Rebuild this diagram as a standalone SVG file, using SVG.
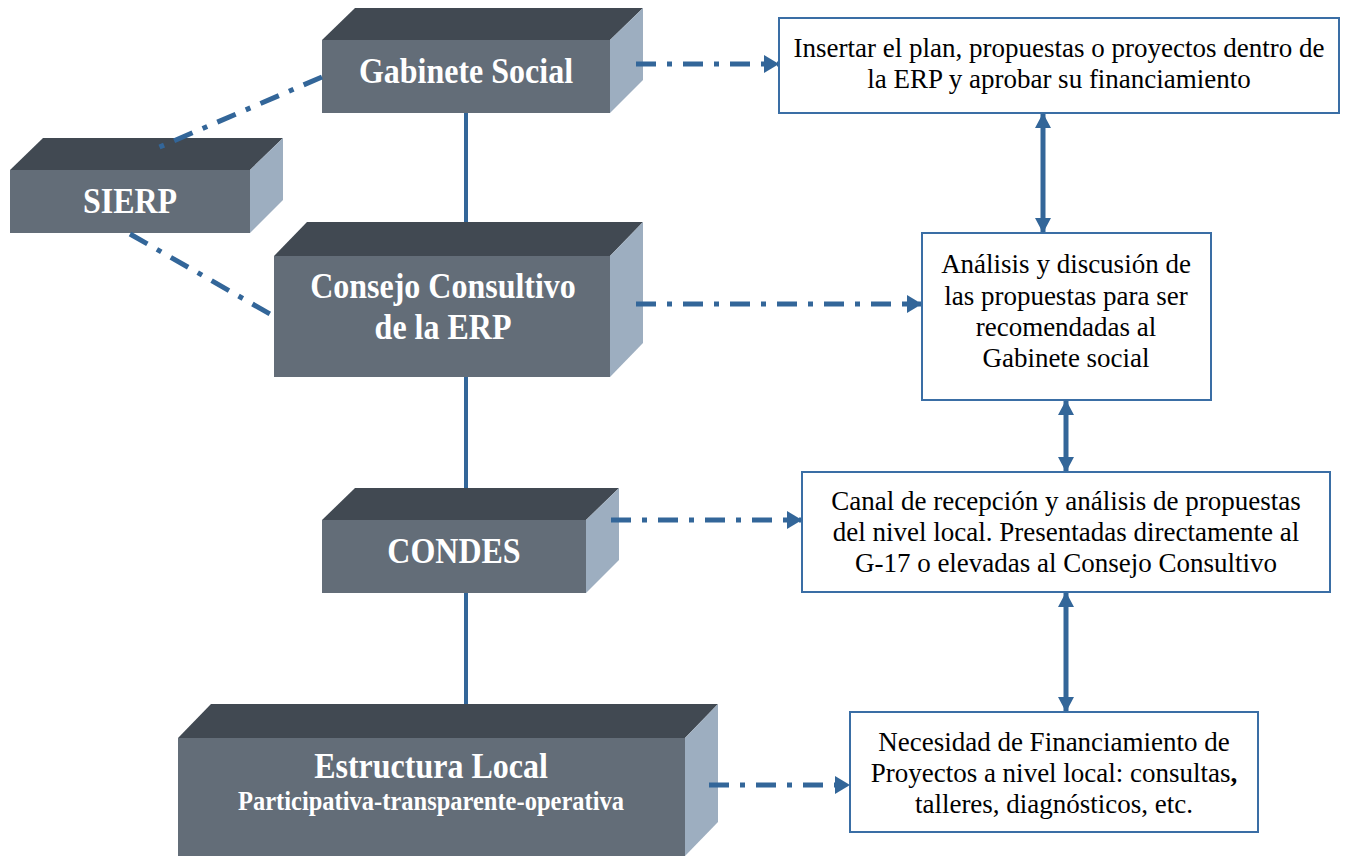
<svg xmlns="http://www.w3.org/2000/svg" width="1357" height="856" viewBox="0 0 1357 856">
<style>
.top{fill:#414952}
.front{fill:#636d78}
.side{fill:#9daec0}
.lbl{font-family:'Liberation Serif',serif;font-weight:bold;fill:#ffffff;text-anchor:middle}
.box{fill:#ffffff;stroke:#3a6ea5;stroke-width:2}
.txt{font-family:'Liberation Serif',serif;fill:#000000;text-anchor:middle;font-size:27px}
.solid{stroke:#336699;stroke-width:4;fill:none}
.dd{stroke:#336699;stroke-width:5;fill:none;stroke-dasharray:20 11 5 11}
.dbl{stroke:#336699;stroke-width:5;fill:none}
</style>
<defs>
<marker id="ah" markerUnits="userSpaceOnUse" markerWidth="16" markerHeight="18" refX="14" refY="9" orient="auto">
<path d="M0,0 L15,9 L0,18 Z" fill="#336699"/>
</marker>
<marker id="ahs" markerUnits="userSpaceOnUse" markerWidth="16" markerHeight="16" refX="14" refY="8" orient="auto-start-reverse">
<path d="M0,0 L15,8 L0,16 Z" fill="#336699"/>
</marker>
</defs>

<g id="gabinete">
<polygon class="top" points="322,40 355,8 643,8 610,40"/>
<polygon class="side" points="610,40 643,8 643,80 610,113"/>
<rect class="front" x="322" y="40" width="288" height="73"/>
<text class="lbl" font-size="32" transform="translate(466,83) scale(1,1.15)">Gabinete Social</text>
</g>

<g id="sierp">
<polygon class="top" points="10,170 43,138 283,138 250,170"/>
<polygon class="side" points="250,170 283,138 283,200 250,233"/>
<rect class="front" x="10" y="170" width="240" height="63"/>
<text class="lbl" font-size="32" transform="translate(130,213) scale(1,1.15)">SIERP</text>
</g>

<g id="consejo">
<polygon class="top" points="274,256 307,222 643,222 610,256"/>
<polygon class="side" points="610,256 643,222 643,343 610,377"/>
<rect class="front" x="274" y="256" width="336" height="121"/>
<text class="lbl" font-size="32" transform="translate(443,298) scale(1,1.15)">Consejo Consultivo</text>
<text class="lbl" font-size="32" transform="translate(443,339) scale(1,1.15)">de la ERP</text>
</g>

<g id="condes">
<polygon class="top" points="322,520 355,488 619,488 586,520"/>
<polygon class="side" points="586,520 619,488 619,560 586,593"/>
<rect class="front" x="322" y="520" width="264" height="73"/>
<text class="lbl" font-size="32" transform="translate(454,563) scale(1,1.15)">CONDES</text>
</g>

<g id="estructura">
<polygon class="top" points="178,738 211,704 718,704 685,738"/>
<polygon class="side" points="685,738 718,704 718,822 685,856"/>
<rect class="front" x="178" y="738" width="507" height="118"/>
<text class="lbl" font-size="32" transform="translate(431,778) scale(1,1.15)">Estructura Local</text>
<text class="lbl" font-size="24.5" transform="translate(431,810) scale(1,1.1)">Participativa-transparente-operativa</text>
</g>

<g id="insertar">
<rect class="box" x="779" y="18" width="560" height="95"/>
<text class="txt" x="1059" y="57">Insertar el plan, propuestas o proyectos dentro de</text>
<text class="txt" x="1059" y="88">la ERP y aprobar su financiamiento</text>
</g>

<g id="analisis">
<rect class="box" x="922" y="233" width="289" height="167"/>
<text class="txt" x="1066" y="273">Análisis y discusión de</text>
<text class="txt" x="1066" y="305">las propuestas para ser</text>
<text class="txt" x="1066" y="336">recomendadas al</text>
<text class="txt" x="1066" y="367">Gabinete social</text>
</g>

<g id="canal">
<rect class="box" x="802" y="472" width="528" height="120"/>
<text class="txt" x="1066" y="510">Canal de recepción y análisis de propuestas</text>
<text class="txt" x="1066" y="541">del nivel local. Presentadas directamente al</text>
<text class="txt" x="1066" y="572">G-17 o elevadas al Consejo Consultivo</text>
</g>

<g id="necesidad">
<rect class="box" x="850" y="712" width="408" height="120"/>
<text class="txt" x="1054" y="751">Necesidad de Financiamiento de</text>
<text class="txt" x="1054" y="782">Proyectos a nivel local: consultas<tspan font-weight="bold">,</tspan></text>
<text class="txt" x="1054" y="813">talleres, diagnósticos, etc.</text>
</g>

<g id="connectors">
<line class="solid" x1="466" y1="113" x2="466" y2="222"/>
<line class="solid" x1="466" y1="377" x2="466" y2="488"/>
<line class="solid" x1="466" y1="593" x2="466" y2="704"/>
<line class="dd" x1="322" y1="77" x2="155" y2="149"/>
<line class="dd" x1="130" y1="234" x2="270" y2="314"/>
<line class="dd" x1="636" y1="64" x2="778" y2="64" marker-end="url(#ah)"/>
<line class="dd" x1="636" y1="304" x2="921" y2="304" marker-end="url(#ah)"/>
<line class="dd" x1="611" y1="520" x2="801" y2="520" marker-end="url(#ah)"/>
<line class="dd" x1="709" y1="785" x2="849" y2="785" marker-end="url(#ah)"/>
<line class="dbl" x1="1043" y1="114" x2="1043" y2="232" marker-start="url(#ahs)" marker-end="url(#ahs)"/>
<line class="dbl" x1="1066" y1="401" x2="1066" y2="471" marker-start="url(#ahs)" marker-end="url(#ahs)"/>
<line class="dbl" x1="1066" y1="593" x2="1066" y2="711" marker-start="url(#ahs)" marker-end="url(#ahs)"/>
</g>
</svg>
